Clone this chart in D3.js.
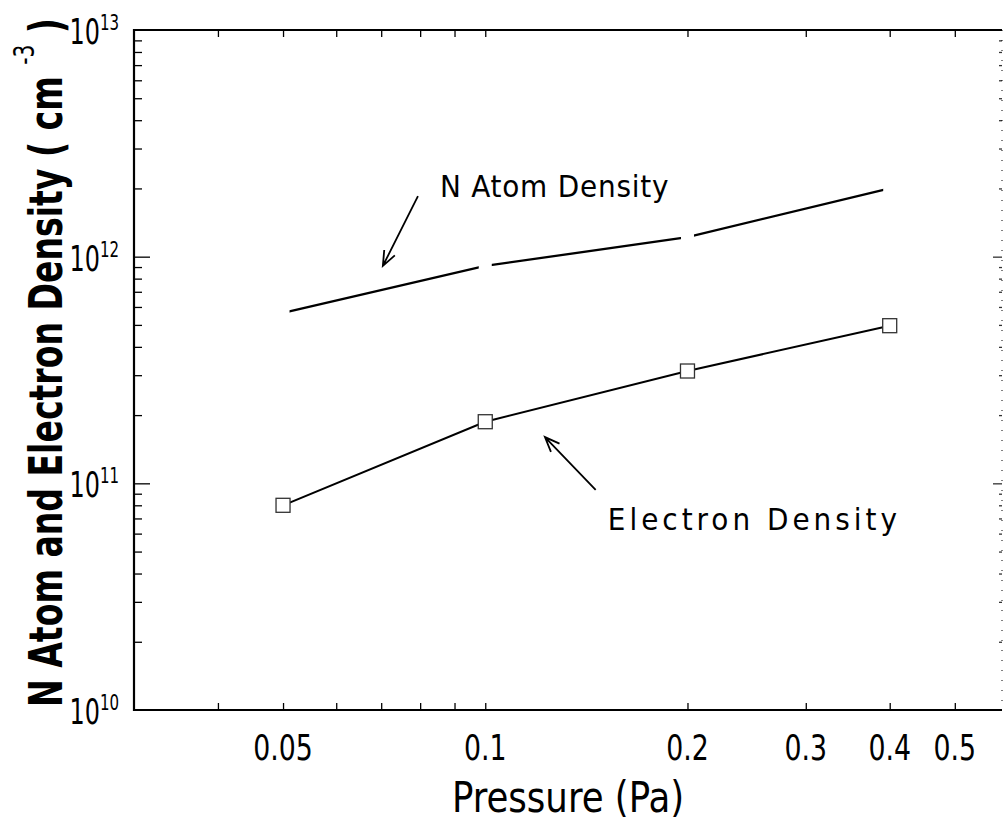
<!DOCTYPE html>
<html>
<head>
<meta charset="utf-8">
<script src="https://cdn.jsdelivr.net/npm/d3@7"></script>
<style>
  html, body { margin: 0; padding: 0; background: #fff; }
  svg { display: block; }
  text { font-family: "Liberation Sans Narrow", "DejaVu Sans Condensed", "DejaVu Sans", sans-serif; font-stretch: condensed; fill: #000; }
</style>
</head>
<body>
<svg id="chart" width="1003" height="822"></svg>
<script>
// pressure (Pa) and measured densities (cm^-3)
var pressure = [0.05, 0.1, 0.2, 0.4];
var nAtomDensity = [5.65e11, 9.1e11, 1.22e12, 2.0e12];
var electronDensity = [8.0e10, 1.87e11, 3.13e11, 4.96e11];

var xTickValues = [0.05, 0.1, 0.2, 0.3, 0.4, 0.5];
var xTickLabels = ['0.05', '0.1', '0.2', '0.3', '0.4', '0.5'];
var yDecades = [10, 11, 12, 13];

// annotations in data units: label position, arrow tail, arrow head
var nAtomNote = { text: 'N Atom Density', spacing: 0.8, lx: 0.0856, ly: 1.83e12, tx: 0.0794, ty: 1.85e12, hx: 0.0704, hy: 9.1e11 };
var electronNote = { text: 'Electron Density', spacing: 4, lx: 0.1522, ly: 6.2e10, tx: 0.146, ty: 9.35e10, hx: 0.1227, hy: 1.6e11 };

var svg = d3.select('#chart');
var plotLeft = 134, plotRight = 1008, plotTop = 30, plotBottom = 710, rightEdge = 1002;

var x = d3.scaleLog().domain([0.03, 0.6]).range([plotLeft, plotRight]);
var y = d3.scaleLog().domain([1e10, 1e13]).range([plotBottom, plotTop]);

var axes = svg.append('g');
var xMinor = x.ticks().filter(function(d) { return d > 0.031 && d < 0.59; });

// minor ticks (inward)
axes.append('g')
  .attr('transform', 'translate(0,' + plotBottom + ')')
  .call(d3.axisBottom(x).tickValues(xMinor).tickSize(-7).tickFormat(''));
axes.append('g')
  .attr('transform', 'translate(0,' + plotTop + ')')
  .call(d3.axisTop(x).tickValues(xMinor).tickSize(-7).tickFormat(''));

var yMinor = y.ticks().filter(function(d) { return Math.abs(Math.log10(d) % 1) > 0.01; });
var yMajor = [1e11, 1e12];
axes.append('g')
  .attr('transform', 'translate(' + plotLeft + ',0)')
  .call(d3.axisLeft(y).tickValues(yMinor).tickSize(-8).tickFormat(''));
axes.append('g')
  .attr('transform', 'translate(' + plotLeft + ',0)')
  .call(d3.axisLeft(y).tickValues(yMajor).tickSize(-16).tickFormat(''));
axes.append('g')
  .attr('class', 'right-axis')
  .attr('transform', 'translate(' + rightEdge + ',0)')
  .call(d3.axisRight(y).tickValues(yMinor).tickSize(-3).tickFormat(''));
axes.append('g')
  .attr('class', 'right-axis')
  .attr('transform', 'translate(' + rightEdge + ',0)')
  .call(d3.axisRight(y).tickValues(yMajor).tickSize(-9).tickFormat(''));

axes.selectAll('.domain').remove();
axes.selectAll('.tick line').attr('stroke', '#000').attr('stroke-width', 1.3);
axes.selectAll('.right-axis .tick line').attr('stroke', '#333');

// frame
svg.append('path')
  .attr('d', 'M' + rightEdge + ',' + plotTop + 'H' + plotLeft + 'V' + plotBottom + 'H' + rightEdge)
  .attr('fill', 'none')
  .attr('stroke', '#000')
  .attr('stroke-width', 2.2);
svg.append('line')
  .attr('x1', rightEdge).attr('x2', rightEdge)
  .attr('y1', plotTop).attr('y2', plotBottom)
  .attr('stroke', '#000')
  .attr('stroke-width', 1)
  .attr('stroke-dasharray', '1,9');

// x tick labels (narrow glyphs)
svg.append('g').selectAll('text')
  .data(xTickValues)
  .enter().append('text')
  .attr('transform', function(d) { return 'translate(' + x(d) + ',760) scale(0.85,1)'; })
  .attr('text-anchor', 'middle')
  .style('font-size', '35px')
  .text(function(d, i) { return xTickLabels[i]; });

// y tick labels 10^n
var yLab = svg.append('g').selectAll('text')
  .data(yDecades)
  .enter().append('text')
  .attr('transform', function(d) { return 'translate(119,' + (y(Math.pow(10, d)) + 14) + ') scale(0.76,1)'; })
  .attr('text-anchor', 'end')
  .style('font-size', '35px');
yLab.append('tspan').text('10');
yLab.append('tspan')
  .attr('dy', -14)
  .style('font-size', '22px')
  .text(function(d) { return d; });

// axis titles
svg.append('text')
  .attr('transform', 'translate(568,812) scale(0.92,1)')
  .attr('text-anchor', 'middle')
  .style('font-size', '43px')
  .style('font-weight', '500')
  .text('Pressure (Pa)');

var yTitle = svg.append('text')
  .attr('transform', 'translate(62,707) rotate(-90) scale(0.8,1)')
  .style('font-size', '46px')
  .style('font-weight', 'bold');
yTitle.append('tspan').text('N Atom and Electron Density ( cm ');
yTitle.append('tspan').attr('dy', -28).style('font-size', '28px').style('font-weight', 'normal').text('-3');
yTitle.append('tspan').attr('dy', 28).text(' )');

// lines
var line = d3.line()
  .x(function(d, i) { return x(pressure[i]); })
  .y(function(d) { return y(d); });

svg.append('path')
  .datum(nAtomDensity)
  .attr('d', line)
  .attr('fill', 'none')
  .attr('stroke', '#000')
  .attr('stroke-width', 2.3);

// hidden markers break the N atom line at each point
svg.append('g').selectAll('rect')
  .data(nAtomDensity)
  .enter().append('rect')
  .attr('x', function(d, i) { return x(pressure[i]) - 6.5; })
  .attr('y', function(d) { return y(d) - 6.5; })
  .attr('width', 13)
  .attr('height', 13)
  .attr('fill', '#fff');

svg.append('path')
  .datum(electronDensity)
  .attr('d', line)
  .attr('fill', 'none')
  .attr('stroke', '#000')
  .attr('stroke-width', 2);

svg.append('g').selectAll('rect')
  .data(electronDensity)
  .enter().append('rect')
  .attr('x', function(d, i) { return x(pressure[i]) - 7; })
  .attr('y', function(d) { return y(d) - 7; })
  .attr('width', 14)
  .attr('height', 14)
  .attr('fill', '#fff')
  .attr('stroke', '#333')
  .attr('stroke-width', 1.3);

// annotations
var drawNote = function(n) {
  svg.append('text')
    .attr('x', x(n.lx))
    .attr('y', y(n.ly))
    .style('font-size', '31px')
    .style('letter-spacing', n.spacing + 'px')
    .text(n.text);

  var x0 = x(n.tx), y0 = y(n.ty), x1 = x(n.hx), y1 = y(n.hy);
  var a = Math.atan2(y1 - y0, x1 - x0), len = 16, spread = 0.38;
  var p = 'M' + x0 + ',' + y0 + 'L' + x1 + ',' + y1 +
    'M' + (x1 - len * Math.cos(a - spread)) + ',' + (y1 - len * Math.sin(a - spread)) +
    'L' + x1 + ',' + y1 +
    'L' + (x1 - len * Math.cos(a + spread)) + ',' + (y1 - len * Math.sin(a + spread));
  svg.append('path')
    .attr('d', p)
    .attr('fill', 'none')
    .attr('stroke', '#000')
    .attr('stroke-width', 1.8);
};
drawNote(nAtomNote);
drawNote(electronNote);
</script>
</body>
</html>
